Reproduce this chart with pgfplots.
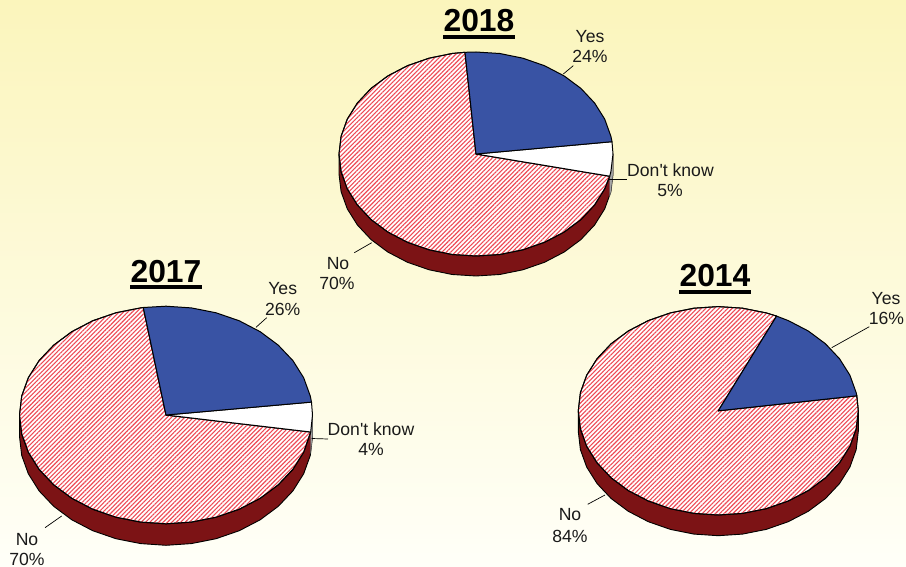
\documentclass[border=0pt]{standalone}
\usepackage{fontspec}
\setmainfont{Liberation Sans}
\newfontfamily\plainsans{Liberation Sans}
\usepackage{pgfplots}
\pgfplotsset{compat=1.18}
\usetikzlibrary{patterns.meta}
\definecolor{bluepie}{HTML}{3953A4}
\definecolor{darkside}{HTML}{7C1315}
\definecolor{hatch}{HTML}{EE4A55}
\definecolor{bgtop}{HTML}{FBF5BC}
\definecolor{bgbot}{HTML}{FFFFF8}
\definecolor{txt}{HTML}{1A1A1A}
\tikzset{
  side/.style={fill=darkside,draw=black,line width=0.9pt,line join=round},
  sliver/.style={fill=gray!70,draw=black!60,line width=0.3pt},
  yes/.style={fill=bluepie,draw=black,line width=1pt,line join=round},
  dk/.style={fill=white,draw=black,line width=1pt,line join=round},
  no/.style={fill=white,draw=black,line width=1pt,line join=round,
    postaction={pattern={Lines[angle=45,distance=3.1pt,line width=1.1pt]},pattern color=hatch}},
  leader/.style={draw=black,line width=0.7pt},
  ul/.style={draw=black,line width=3.6pt},
}
\newcommand{\lbl}[3]{\node[anchor=base,inner sep=0pt,yshift=-0.7pt,text=txt,font=\plainsans\fontsize{17.6}{20}\selectfont] at (axis cs:#1,#2) {#3};}
\newcommand{\ttl}[3]{\node[anchor=base,inner sep=0pt,font=\fontsize{31.8}{36}\selectfont\bfseries] at (axis cs:#1,#2) {#3};}
\begin{document}
\begin{tikzpicture}
\begin{axis}[
  scale only axis, width=906pt, height=567pt,
  xmin=0, xmax=906, ymin=0, ymax=567, y dir=reverse,
  hide axis, no marks, clip=false,
  every axis plot/.append style={forget plot},
]
\path[top color=bgtop,bottom color=bgbot] (axis cs:0,0) rectangle (axis cs:906,567);

% ---------- 2018 ----------
\addplot[side] coordinates {(339,154)(339,174)(341.1,191.7)(347.3,208.9)(357.4,225)(371.1,239.6)(387.9,252.1)(407.5,262.3)(429.1,269.8)(452.2,274.5)(476,276)(499.8,274.5)(522.9,269.8)(544.5,262.3)(564.1,252.1)(580.9,239.6)(594.6,225)(604.7,208.9)(610.9,191.7)(613,174)(613,154)} -- cycle;
\addplot[sliver] coordinates {(613,154)(613,174)(610.9,191.7)(609.7,196.2)(609.7,176.2)} -- cycle;
\addplot[no] coordinates {(476,154)(609.7,176.2)(604.7,188.9)(594.6,205)(580.9,219.6)(564.1,232.1)(544.5,242.3)(522.9,249.8)(499.8,254.5)(476,256)(452.2,254.5)(429.1,249.8)(407.5,242.3)(387.9,232.1)(371.1,219.6)(357.4,205)(347.3,188.9)(341.1,171.7)(339,154)(341.1,136.3)(347.3,119.1)(357.4,103)(371.1,88.4)(387.9,75.9)(407.5,65.7)(429.1,58.2)(452.2,53.5)(465,52.3)} -- cycle;
\addplot[dk] coordinates {(476,154)(612,141.7)(613,154)(610.9,171.7)(609.7,176.2)} -- cycle;
\addplot[yes] coordinates {(476,154)(465,52.3)(476,52)(499.8,53.5)(522.9,58.2)(544.5,65.7)(564.1,75.9)(580.9,88.4)(594.6,103)(604.7,119.1)(610.9,136.3)(612,141.7)} -- cycle;
\addplot[leader] coordinates {(563.3,74)(573.3,65.7)};
\addplot[leader] coordinates {(609,179.5)(626.7,179.5)};
\addplot[leader] coordinates {(354.3,252.7)(371.7,242.7)};
\addplot[ul] coordinates {(443,37)(515,37)};
\ttl{479}{31.7}{2018}
\lbl{590}{41.5}{Yes}
\lbl{590}{62}{24\%}
\lbl{670.5}{176}{Don't know}
\lbl{670}{196}{5\%}
\lbl{338}{268.5}{No}
\lbl{337}{289}{70\%}

% ---------- 2017 ----------
\addplot[side] coordinates {(19.5,415)(19.5,436.5)(21.7,455.4)(28.3,473.7)(39.1,490.9)(53.8,506.4)(71.8,519.8)(92.7,530.7)(115.9,538.7)(140.6,543.6)(166,545.3)(191.4,543.6)(216.1,538.7)(239.3,530.7)(260.2,519.8)(278.2,506.4)(292.9,490.9)(303.7,473.7)(310.3,455.4)(312.5,436.5)(312.5,415)} -- cycle;
\addplot[sliver] coordinates {(312.5,415)(312.5,436.5)(310.7,453.5)(310.7,432)} -- cycle;
\addplot[no] coordinates {(166,415)(310.7,432)(303.7,452.2)(292.9,469.4)(278.2,484.9)(260.2,498.3)(239.3,509.2)(216.1,517.2)(191.4,522.1)(166,523.8)(140.6,522.1)(115.9,517.2)(92.7,509.2)(71.8,498.3)(53.8,484.9)(39.1,469.4)(28.3,452.2)(21.7,433.9)(19.5,415)(21.7,396.1)(28.3,377.8)(39.1,360.6)(53.8,345.1)(71.8,331.7)(92.7,320.8)(115.9,312.8)(140.6,307.9)(143.3,307.5)} -- cycle;
\addplot[dk] coordinates {(166,415)(311.5,402.1)(312.5,415)(310.7,432)} -- cycle;
\addplot[yes] coordinates {(166,415)(143.3,307.5)(166,306.2)(191.4,307.9)(216.1,312.8)(239.3,320.8)(260.2,331.7)(278.2,345.1)(292.9,360.6)(303.7,377.8)(310.3,396.1)(311.5,402.1)} -- cycle;
\addplot[leader] coordinates {(256,327.3)(266.7,317.7)};
\addplot[leader] coordinates {(311.7,438.5)(328,439)};
\addplot[leader] coordinates {(45,527.7)(61.7,516)};
\addplot[ul] coordinates {(130,287)(202,287)};
\ttl{166}{282}{2017}
\lbl{282.7}{294}{Yes}
\lbl{282.7}{314.3}{26\%}
\lbl{371}{435}{Don't know}
\lbl{371}{455}{4\%}
\lbl{27}{545}{No}
\lbl{27}{565}{70\%}

% ---------- 2014 ----------
\addplot[side] coordinates {(578.3,410.8)(578.3,431.5)(580.4,449.6)(586.7,467.1)(597.1,483.6)(611.1,498.5)(628.3,511.3)(648.3,521.7)(670.4,529.4)(694,534.1)(718.3,535.7)(742.6,534.1)(766.2,529.4)(788.3,521.7)(808.3,511.3)(825.5,498.5)(839.5,483.6)(849.9,467.1)(856.2,449.6)(858.3,431.5)(858.3,410.8)} -- cycle;
\addplot[no] coordinates {(718.3,410.8)(856.8,395.8)(858.3,410.8)(856.2,428.9)(849.9,446.4)(839.5,462.9)(825.5,477.8)(808.3,490.6)(788.3,501)(766.2,508.7)(742.6,513.4)(718.3,515)(694,513.4)(670.4,508.7)(648.3,501)(628.3,490.6)(611.1,477.8)(597.1,462.9)(586.7,446.4)(580.4,428.9)(578.3,410.8)(580.4,392.7)(586.7,375.2)(597.1,358.7)(611.1,343.8)(628.3,331)(648.3,320.6)(670.4,312.9)(694,308.2)(718.3,306.6)(742.6,308.2)(766.2,312.9)(776.6,316.1)} -- cycle;
\addplot[yes] coordinates {(718.3,410.8)(776.6,316.1)(788.3,320.6)(808.3,331)(825.5,343.8)(839.5,358.7)(849.9,375.2)(856.2,392.7)(856.8,395.8)} -- cycle;
\addplot[leader] coordinates {(831.7,347.7)(869.3,326.7)};
\addplot[leader] coordinates {(587.7,504.3)(605,495)};
\addplot[ul] coordinates {(679.3,292)(751,292)};
\ttl{715}{287}{2014}
\lbl{886}{303.3}{Yes}
\lbl{886.5}{323.3}{16\%}
\lbl{570}{520}{No}
\lbl{570}{541.7}{84\%}
\end{axis}
\end{tikzpicture}
\end{document}
